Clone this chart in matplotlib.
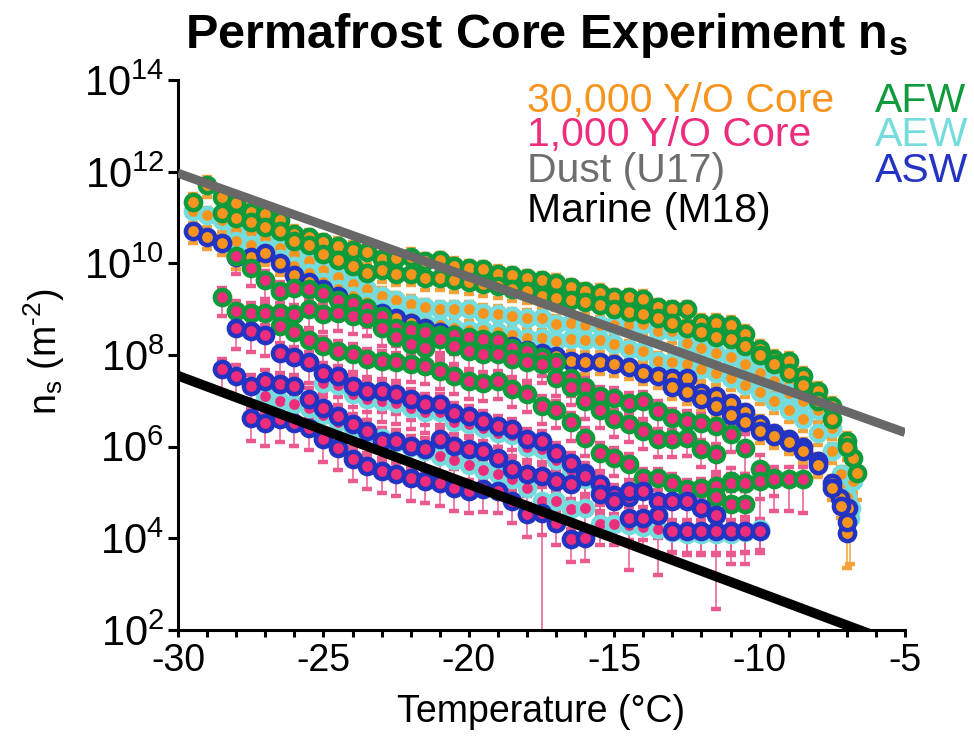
"""Permafrost core ice-nucleation site density (n_s) spectra vs temperature."""

import numpy as np
import matplotlib
matplotlib.use('Agg')
import matplotlib.pyplot as plt
from matplotlib.ticker import NullLocator

plt.rcParams['font.family'] = ['Liberation Sans', 'DejaVu Sans']
plt.rcParams['mathtext.fontset'] = 'custom'
plt.rcParams['mathtext.rm'] = 'Liberation Sans'
plt.rcParams['mathtext.it'] = 'Liberation Sans:italic'
plt.rcParams['mathtext.bf'] = 'Liberation Sans:bold'
plt.rcParams['axes.unicode_minus'] = False

# colours
ORANGE = '#F7941D'
PINK = '#EE2C7C'
GREEN = '#0F9B3B'
CYAN = '#74DCDC'
BLUE = '#2334C2'
ORANGE_ERR = '#F5A23A'
PINK_ERR = '#EB5A8F'

# log10(n_s) in m^-2, one value every 0.5 C from the start temperature,
# followed by a few closely spaced points near the end of each spectrum.

# 30,000 Y/O core
c30_afw_a_start = -29.5
c30_afw_a = [11.35, 11.72, 11.45, 11.33, 11.12, 11.08, 10.94, 10.65, 10.57, 10.46,
             10.39, 10.30, 10.25, 10.10, 10.12, 10.15, 10.05, 10.07, 9.95, 9.90,
             9.88, 9.78, 9.75, 9.68, 9.63, 9.58, 9.48, 9.40, 9.36, 9.26,
             9.26, 9.23, 9.04, 9.00, 9.00, 8.71, 8.71, 8.66, 8.47, 8.14,
             7.92, 7.88, 7.55, 7.22, 6.90, 6.13]
c30_afw_a_tail_t = [-6.8, -6.65]
c30_afw_a_tail = [5.76, 5.43]

c30_afw_b_start = -28.5
c30_afw_b = [11.10, 11.00, 10.90, 10.80, 10.70, 10.50, 10.40, 10.20, 10.07, 9.95,
             9.80, 9.85, 9.78, 9.78, 9.69, 9.68, 9.63, 9.60, 9.55, 9.50,
             9.45, 9.40, 9.30, 9.25, 9.20, 9.15, 9.10, 9.00, 8.95, 8.90,
             8.80, 8.70, 8.60, 8.50, 8.40, 8.36, 8.20, 8.00, 7.80, 7.60,
             7.35, 7.00, 6.60, 6.00]

c30_aew_a_start = -29.5
c30_aew_a = [11.15, 11.05, 10.94, 10.72, 10.68, 10.55, 10.33, 10.20, 10.05, 9.85,
             9.70, 9.55, 9.45, 9.30, 9.20, 9.12, 9.05, 9.00, 9.00, 9.00,
             8.93, 8.90, 8.85, 8.82, 8.80, 8.69, 8.71, 8.65, 8.65, 8.65,
             8.69, 8.69, 8.53, 8.53, 8.27, 8.16, 8.05, 7.95, 7.80, 7.60,
             7.44, 7.18, 7.00, 6.80, 6.42, 5.98]
c30_aew_a_tail_t = [-6.8, -6.85, -6.9]
c30_aew_a_tail = [5.25, 4.67, 4.45]

c30_aew_b_start = -28.0
c30_aew_b = [10.50, 10.40, 10.30, 10.10, 9.95, 9.80, 9.60, 9.45, 9.30, 9.15,
             9.00, 8.90, 8.80, 8.70, 8.65, 8.60, 8.55, 8.54, 8.50, 8.45,
             8.38, 8.38, 8.30, 8.36, 8.32, 8.32, 8.25, 8.14, 8.10, 7.88,
             7.85, 7.80, 7.70, 7.60, 7.50, 7.35, 7.20, 7.00, 6.80, 6.60,
             6.30, 5.90]
c30_aew_b_tail_t = [-7.2, -7.0]
c30_aew_b_tail = [5.40, 4.90]

c30_asw_a_start = -29.5
c30_asw_a = [10.70, 10.57, 10.44, 10.15, 10.15, 10.22, 10.00, 9.74, 9.60, 9.45,
             9.30, 9.10, 8.91, 8.91, 8.80, 8.70, 8.60, 8.50, 8.45, 8.35,
             8.30, 8.25, 8.20, 8.12, 8.05, 7.98, 7.88, 7.84, 7.84, 7.81,
             7.73, 7.62, 7.55, 7.49, 7.49, 7.18, 7.11, 6.95, 6.75, 6.50,
             6.30, 6.17, 6.00, 5.69, 5.20]
c30_asw_a_tail_t = [-7.25, -6.95, -7.0]
c30_asw_a_tail = [4.89, 4.67, 4.12]

c30_asw_b_start = -13.0
c30_asw_b = [7.30, 7.20, 7.05, 6.90, 6.70, 6.55, 6.35, 6.24, 6.10, 5.90,
             5.60, 5.10]
c30_asw_b_tail_t = [-7.2, -7.0]
c30_asw_b_tail = [4.70, 4.35]

# 1,000 Y/O core
c1_afw_a_start = -28.0
c1_afw_a = [10.17, 9.90, 9.63, 9.40, 9.47, 9.45, 9.35, 9.20, 9.13, 9.02,
            8.85, 8.60, 8.55, 8.50, 8.45, 8.43, 8.40, 8.36, 8.32, 8.16,
            8.10, 7.95, 7.85, 7.50, 7.30, 7.11, 7.07, 6.96, 7.00, 6.79,
            6.63, 6.57, 6.52, 6.46, 6.28, 5.98, 5.52, 5.32]

c1_afw_b_start = -28.5
c1_afw_b = [9.26, 8.97, 8.93, 8.93, 8.93, 8.90, 9.00, 8.90, 8.93, 8.86,
            8.82, 8.60, 8.40, 8.25, 8.16, 8.36, 8.20, 8.10, 8.03, 8.03,
            7.92, 7.84, 7.80, 7.50, 7.30, 7.00, 6.80, 6.60, 6.50, 6.35,
            6.17, 6.17, 6.20, 5.95, 5.85, 5.26, 5.20]

c1_afw_c_start = -26.5
c1_afw_c = [8.64, 8.50, 8.32, 8.20, 8.10, 8.03, 7.92, 7.88, 7.84, 7.81,
            7.77, 7.66, 7.55, 7.44, 7.40, 7.44, 7.27, 7.16, 6.90, 6.80,
            6.53, 6.20, 5.87, 5.76, 5.63, 5.32, 5.32, 5.21, 5.08, 5.10,
            5.15, 5.21, 5.21, 5.25, 5.30, 5.30, 5.30]

c1_afw_d_start = -11.5
c1_afw_d = [4.90, 4.75, 4.75]

c1_aew_a_start = -27.0
c1_aew_a = [7.10, 7.00, 6.94, 6.85, 6.70, 6.55, 6.40, 6.30, 6.20, 6.10,
            6.00, 5.90, 5.80, 5.70, 5.60, 5.50, 5.40, 5.30, 5.10, 4.82,
            4.82, 4.64, 4.67, 4.32, 4.32, 4.30, 4.25, 4.20, 4.15, 4.10,
            4.10, 4.10, 4.10, 4.15, 4.20]

c1_aew_b_start = -25.0
c1_aew_b = [7.40, 7.35, 7.15, 7.05, 7.00, 6.95, 6.85, 6.75, 6.75, 6.55,
            6.50, 6.40, 6.30, 6.25, 6.00, 5.95, 5.70, 5.50, 5.30, 5.05]

c1_asw_a_start = -28.0
c1_asw_a = [8.60, 8.53, 8.43, 8.05, 7.95, 7.84, 7.60, 7.55, 7.33, 7.22,
            7.22, 7.16, 7.05, 6.94, 6.94, 6.74, 6.68, 6.57, 6.46, 6.39,
            6.17, 6.13, 5.87, 5.65, 5.43, 5.19, 4.95, 4.90]

c1_asw_b_start = -28.5
c1_asw_b = [7.70, 7.55, 7.33, 7.44, 7.38, 7.33, 7.05, 6.85, 6.68, 6.50,
            6.35, 6.13, 6.13, 6.02, 5.96, 6.17, 6.02, 5.96, 5.91, 5.76,
            5.52, 5.41, 5.37, 5.26, 5.19, 5.37, 4.97, 4.82, 5.04, 5.04,
            4.82, 4.82, 4.82, 4.67, 4.50]

c1_asw_c_start = -27.5
c1_asw_c = [6.63, 6.52, 6.60, 6.52, 6.42, 6.17, 5.98, 5.74, 5.58, 5.48,
            5.41, 5.32, 5.26, 5.21, 5.10, 5.04, 5.08, 5.04, 4.82, 4.53,
            4.56, 4.34, 3.99, 4.01]

c1_asw_d_start = -14.5
c1_asw_d = [4.45, 4.45, 4.50, 4.17, 4.17, 4.17, 4.17, 4.17, 4.17, 4.17]

# parameterisations (log10 n_s at the line ends)
dust_t = [-30.0, -5.0]
dust_log = [11.97, 6.31]
marine_t = [-30.0, -5.0]
marine_log = [7.55, 1.63]


def spectrum(start, logs, tail_t=(), tail_logs=()):
    t = list(start + 0.5 * np.arange(len(logs))) + list(tail_t)
    v = np.array(list(logs) + list(tail_logs))
    return np.array(t), 10.0 ** v


# (temps, n_s, face, edge, error colour, relative error, {temp: wider error})
series = [
    spectrum(c30_aew_a_start, c30_aew_a, c30_aew_a_tail_t, c30_aew_a_tail) + (ORANGE, CYAN, ORANGE_ERR, 0.45, {-6.9: 0.9}),
    spectrum(c30_aew_b_start, c30_aew_b, c30_aew_b_tail_t, c30_aew_b_tail) + (ORANGE, CYAN, ORANGE_ERR, 0.45, {-7.0: 0.8}),
    spectrum(c30_afw_a_start, c30_afw_a, c30_afw_a_tail_t, c30_afw_a_tail) + (ORANGE, GREEN, ORANGE_ERR, 0.45, {-6.65: 0.75}),
    spectrum(c30_afw_b_start, c30_afw_b) + (ORANGE, GREEN, ORANGE_ERR, 0.45, {}),
    spectrum(c30_asw_a_start, c30_asw_a, c30_asw_a_tail_t, c30_asw_a_tail) + (ORANGE, BLUE, ORANGE_ERR, 0.45, {-7.0: 0.83}),
    spectrum(c30_asw_b_start, c30_asw_b, c30_asw_b_tail_t, c30_asw_b_tail) + (ORANGE, BLUE, ORANGE_ERR, 0.45, {}),
    spectrum(c1_aew_a_start, c1_aew_a) + (PINK, CYAN, PINK_ERR, 0.65, {-17.5: 1.0, -14.5: 0.9, -13.5: 0.9}),
    spectrum(c1_aew_b_start, c1_aew_b) + (PINK, CYAN, PINK_ERR, 0.65, {}),
    spectrum(c1_afw_a_start, c1_afw_a) + (PINK, GREEN, PINK_ERR, 0.6, {-11.5: 1.0, -10.5: 0.97, -10.0: 0.95}),
    spectrum(c1_afw_b_start, c1_afw_b) + (PINK, GREEN, PINK_ERR, 0.6, {-11.0: 0.9}),
    spectrum(c1_afw_c_start, c1_afw_c) + (PINK, GREEN, PINK_ERR, 0.6, {-9.5: 0.8, -9.0: 0.8, -8.5: 0.82}),
    spectrum(c1_afw_d_start, c1_afw_d) + (PINK, GREEN, PINK_ERR, 0.6, {-11.0: 0.95, -10.5: 0.95}),
    spectrum(c1_asw_a_start, c1_asw_a) + (PINK, BLUE, PINK_ERR, 0.65, {}),
    spectrum(c1_asw_b_start, c1_asw_b) + (PINK, BLUE, PINK_ERR, 0.68, {-15.0: 0.85}),
    spectrum(c1_asw_c_start, c1_asw_c) + (PINK, BLUE, PINK_ERR, 0.68, {}),
    spectrum(c1_asw_d_start, c1_asw_d) + (PINK, BLUE, PINK_ERR, 0.68, {}),
]

fig = plt.figure(figsize=(9.74, 7.36), dpi=100)
ax = fig.add_axes([0.1828, 0.144, 0.7464, 0.747])
ax.set_yscale('log')

for i, (t, ns, face, edge, ecol, rel, wide) in enumerate(series):
    frac = np.array([wide.get(round(x, 2), rel) for x in t])
    lower = ns * np.minimum(frac, 0.9999)
    upper = ns * frac
    ax.errorbar(t, ns, yerr=[lower, upper], fmt='o', ms=11.0, mfc=face, mec=edge,
                mew=3.2, ecolor=ecol, elinewidth=1.1, capsize=3.6, capthick=1.1,
                zorder=2 + 0.01 * i)

ax.plot(dust_t, 10.0 ** np.array(dust_log), color='#686868', lw=6.5,
        solid_capstyle='butt', zorder=5)
ax.plot(marine_t, 10.0 ** np.array(marine_log), color='black', lw=7,
        solid_capstyle='butt', zorder=5)

ax.set_xlim(-30, -5)
ax.set_ylim(1e2, 1e14)
ax.set_xticks(np.arange(-30, -4, 5))
ax.set_xticks(np.arange(-30, -4, 1), minor=True)
ax.set_xticklabels([str(v) for v in range(-30, -4, 5)])
ax.set_yticks([10.0 ** k for k in range(2, 15, 2)])
ax.set_yticklabels([r'$\mathregular{10^{%d}}$' % k for k in range(2, 15, 2)])
ax.yaxis.set_minor_locator(NullLocator())
ax.tick_params(axis='y', which='major', width=2.2, length=7, labelsize=30, pad=3)
ax.tick_params(axis='x', which='major', width=2.2, length=5, labelsize=27, pad=4)
ax.tick_params(axis='x', which='minor', width=2.2, length=5)
for side in ('top', 'right'):
    ax.spines[side].set_visible(False)
for side in ('left', 'bottom'):
    ax.spines[side].set_linewidth(2.2)

fig.text(0.561, 0.952, r'Permafrost Core Experiment n$_\mathbf{s}$', fontsize=35,
         fontweight='bold', ha='center', va='center')
fig.text(0.045, 0.522, 'n$_\\mathregular{s}$ (m$^\\mathregular{\u20102}$)', fontsize=27,
         rotation=90, ha='center', va='center')
fig.text(0.555, 0.033, 'Temperature (°C)', fontsize=27, ha='center', va='center')

# colour key drawn as plain text in two columns
legend_left = [('30,000 Y/O Core', ORANGE), ('1,000 Y/O Core', PINK),
               ('Dust (U17)', '#6E6E6E'), ('Marine (M18)', 'black')]
legend_right = [('AFW', GREEN), ('AEW', CYAN), ('ASW', BLUE)]
rows_y = [0.863, 0.816, 0.767, 0.713]
for (label, col), y in zip(legend_left, rows_y):
    fig.text(0.541, y, label, fontsize=29.5, color=col, ha='left', va='center')
for (label, col), y in zip(legend_right, rows_y):
    fig.text(0.898, y, label, fontsize=29.5, color=col, ha='left', va='center')

fig.savefig('out.png', dpi=100)
